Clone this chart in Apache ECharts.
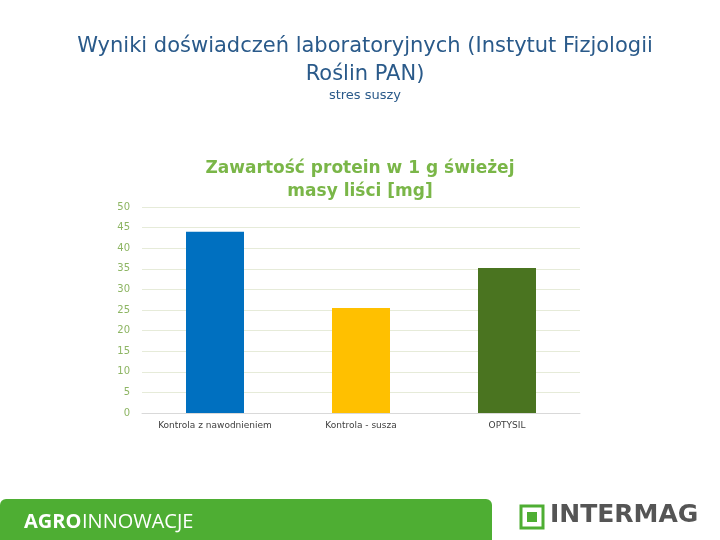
<!DOCTYPE html><html><head><meta charset="utf-8"><script src="https://cdn.jsdelivr.net/npm/echarts@6/dist/echarts.min.js"></script>
<style>html,body{margin:0;padding:0;background:#fff}#c{width:720px;height:540px}</style></head><body><div id="c"></div><script>
const categories=['Kontrola z nawodnieniem','Kontrola - susza','OPTYSIL'];
const values=[44,25.5,35.2];
const colors=['#0070c0','#ffc000','#4a7420'];
const yTicks=[0,50,5];
const chart=echarts.init(document.getElementById('c'));
chart.setOption({
 animation:false,
 title:[
  {text:'Wyniki doświadczeń laboratoryjnych (Instytut Fizjologii\nRoślin PAN)',left:360,top:28,textAlign:'center',textStyle:{fontFamily:'DejaVu Sans',fontWeight:'normal',fontSize:21,color:'#2a5a8a',lineHeight:28},
   subtext:'stres suszy',subtextStyle:{fontFamily:'DejaVu Sans',fontSize:13,color:'#2a5a8a'},itemGap:0},
  {text:'Zawartość protein w 1 g świeżej\nmasy liści [mg]',left:355,top:152,textAlign:'center',textStyle:{fontFamily:'DejaVu Sans',fontWeight:'bold',fontSize:17,color:'#7ab648',lineHeight:23}}
 ],
 grid:{left:142,right:140,top:207,bottom:127},
 xAxis:{type:'category',data:categories,axisTick:{show:false},axisLine:{lineStyle:{color:'#d9d9d9'}},axisLabel:{interval:0,fontFamily:'DejaVu Sans',fontSize:9,color:'#404040',margin:8}},
 yAxis:{type:'value',min:yTicks[0],max:yTicks[1],interval:yTicks[2],axisLine:{show:false},axisTick:{show:false},splitLine:{lineStyle:{color:'#e6ebd9'}},axisLabel:{fontFamily:'DejaVu Sans',fontSize:10,color:'#8db563',margin:12}},
 series:[{type:'bar',barWidth:58,data:values.map((v,i)=>({value:v,itemStyle:{color:colors[i]}}))}],
 graphic:[
  {type:'rect',shape:{x:0,y:499,width:492,height:41,r:[6,6,0,0]},style:{fill:'#4eae33'}},
  {type:'text',left:24,top:512,style:{text:'AGRO',font:'bold 20px "Open Sans"',fill:'#fff'}},
  {type:'text',left:82,top:512,style:{text:'INNOWACJE',font:'20px "Open Sans"',fill:'#fff'}},
  {type:'rect',shape:{x:521,y:506,width:22,height:22},style:{fill:'#fff',stroke:'#4eae33',lineWidth:3}},
  {type:'rect',shape:{x:527,y:512,width:10,height:10},style:{fill:'#4eae33'}},
  {type:'text',left:550,top:503,style:{text:'INTERMAG',font:'bold 25px "DejaVu Sans"',fill:'#555'}}
 ]
});
</script></body></html>
